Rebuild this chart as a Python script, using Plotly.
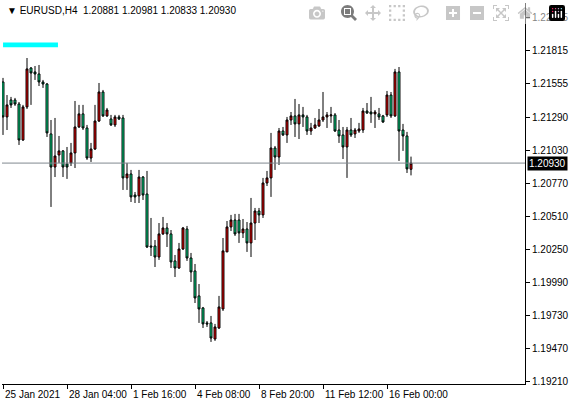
from plotly import graph_objs as go

open_ = [1.21570, 1.21294, 1.21428, 1.21428, 1.21396, 1.21112, 1.21373, 1.21680, 1.21649, 1.21633,
         1.21570, 1.21554, 1.21160, 1.20899, 1.20994, 1.21026, 1.20923, 1.20931, 1.21010, 1.21215,
         1.21318, 1.21207, 1.20970, 1.21041, 1.21262, 1.21491, 1.21302, 1.21278, 1.21231, 1.21294,
         1.21286, 1.20813, 1.20844, 1.20678, 1.20671, 1.20820, 1.20686, 1.20276, 1.20276, 1.20189,
         1.20371, 1.20418, 1.20371, 1.20158, 1.20102, 1.20252, 1.20410, 1.20181, 1.20079, 1.19882,
         1.19787, 1.19669, 1.19669, 1.19542, 1.19629, 1.19779, 1.20229, 1.20426, 1.20481, 1.20481,
         1.20379, 1.20410, 1.20300, 1.20457, 1.20552, 1.20521, 1.20773, 1.20813, 1.21049, 1.20978,
         1.21183, 1.21152, 1.21270, 1.21302, 1.21239, 1.21310, 1.21294, 1.21183, 1.21207, 1.21223,
         1.21270, 1.21294, 1.21302, 1.21310, 1.21191, 1.21152, 1.21057, 1.21191, 1.21160, 1.21183,
         1.21191, 1.21341, 1.21333, 1.21318, 1.21318, 1.21302, 1.21310, 1.21467, 1.21302, 1.21649,
         1.21191, 1.21144, 1.20881]
high = [1.21602, 1.21467, 1.21452, 1.21444, 1.21412, 1.21389, 1.21759, 1.21688, 1.21696, 1.21704,
        1.21586, 1.21562, 1.21270, 1.21286, 1.21144, 1.21033, 1.21057, 1.21089, 1.21420, 1.21389,
        1.21389, 1.21231, 1.21089, 1.21389, 1.21562, 1.21507, 1.21365, 1.21310, 1.21310, 1.21310,
        1.21310, 1.20931, 1.20876, 1.20702, 1.20876, 1.20828, 1.20868, 1.20497, 1.20323, 1.20457,
        1.20505, 1.20457, 1.20402, 1.20205, 1.20300, 1.20426, 1.20434, 1.20221, 1.20134, 1.19976,
        1.19795, 1.19684, 1.19724, 1.19661, 1.19882, 1.20339, 1.20473, 1.20521, 1.20529, 1.20529,
        1.20489, 1.20465, 1.20655, 1.20576, 1.20576, 1.20813, 1.20868, 1.21168, 1.21065, 1.21207,
        1.21215, 1.21294, 1.21333, 1.21436, 1.21396, 1.21373, 1.21310, 1.21247, 1.21286, 1.21357,
        1.21491, 1.21333, 1.21373, 1.21325, 1.21270, 1.21215, 1.21215, 1.21286, 1.21207, 1.21247,
        1.21365, 1.21404, 1.21452, 1.21349, 1.21365, 1.21310, 1.21499, 1.21491, 1.21673, 1.21688,
        1.21239, 1.21176, 1.20981]
low = [1.21152, 1.21191, 1.21365, 1.21381, 1.21073, 1.21105, 1.21357, 1.21389, 1.21586, 1.21538,
       1.21523, 1.21136, 1.20584, 1.20820, 1.20931, 1.20820, 1.20805, 1.20907, 1.20891, 1.21207,
       1.21191, 1.20955, 1.20939, 1.21033, 1.21254, 1.21294, 1.21294, 1.21223, 1.21215, 1.21270,
       1.20718, 1.20718, 1.20623, 1.20615, 1.20615, 1.20639, 1.20260, 1.20197, 1.20110, 1.20166,
       1.20363, 1.20268, 1.20102, 1.20031, 1.20095, 1.20244, 1.20158, 1.19992, 1.19826, 1.19669,
       1.19629, 1.19637, 1.19519, 1.19527, 1.19621, 1.19763, 1.20229, 1.20394, 1.20355, 1.20300,
       1.20339, 1.20229, 1.20189, 1.20323, 1.20457, 1.20497, 1.20749, 1.20663, 1.20876, 1.20915,
       1.21144, 1.21089, 1.21231, 1.21136, 1.21120, 1.21215, 1.21152, 1.21152, 1.21199, 1.21215,
       1.21254, 1.21207, 1.21247, 1.21176, 1.21089, 1.20962, 1.20813, 1.21136, 1.21128, 1.21168,
       1.21168, 1.21318, 1.21247, 1.21207, 1.21270, 1.21247, 1.21294, 1.21286, 1.21294, 1.20947,
       1.21026, 1.20852, 1.20833]
close = [1.21294, 1.21389, 1.21389, 1.21396, 1.21112, 1.21373, 1.21673, 1.21641, 1.21633, 1.21570,
         1.21554, 1.21168, 1.20899, 1.20986, 1.21026, 1.20899, 1.20899, 1.21010, 1.21215, 1.21318,
         1.21207, 1.20970, 1.21041, 1.21262, 1.21491, 1.21302, 1.21349, 1.21231, 1.21294, 1.21278,
         1.20813, 1.20844, 1.20663, 1.20663, 1.20820, 1.20678, 1.20268, 1.20268, 1.20189, 1.20371,
         1.20418, 1.20371, 1.20150, 1.20102, 1.20252, 1.20418, 1.20181, 1.20071, 1.19866, 1.19779,
         1.19661, 1.19661, 1.19550, 1.19637, 1.19795, 1.20237, 1.20426, 1.20481, 1.20371, 1.20379,
         1.20410, 1.20300, 1.20457, 1.20552, 1.20521, 1.20773, 1.20813, 1.21049, 1.20978, 1.21183,
         1.21152, 1.21270, 1.21302, 1.21239, 1.21310, 1.21294, 1.21183, 1.21207, 1.21231, 1.21270,
         1.21294, 1.21310, 1.21310, 1.21183, 1.21144, 1.21057, 1.21191, 1.21152, 1.21191, 1.21199,
         1.21341, 1.21325, 1.21318, 1.21333, 1.21294, 1.21254, 1.21467, 1.21302, 1.21649, 1.21183,
         1.21144, 1.20884, 1.20930]

date_ticks = [0, 16, 32, 48, 64, 80, 96]
date_labels = ["25 Jan 2021", "28 Jan 04:00", "1 Feb 16:00", "4 Feb 08:00",
               "8 Feb 20:00", "11 Feb 12:00", "16 Feb 00:00"]
price_ticks = [1.22075, 1.21815, 1.21555, 1.21290, 1.21030, 1.20770,
               1.20510, 1.20250, 1.19990, 1.19730, 1.19470, 1.19210]
last_price = 1.20930
title = "EURUSD,H4  1.20881 1.20981 1.20833 1.20930"

FONT = "Liberation Sans"
x = list(range(len(close)))

fig = go.Figure()
fig.add_trace(go.Candlestick(
    x=x, open=open_, high=high, low=low, close=close,
    increasing=dict(fillcolor="#ff0000", line=dict(color="black", width=1)),
    decreasing=dict(fillcolor="#00f090", line=dict(color="black", width=1)),
    whiskerwidth=0, showlegend=False, hoverinfo="skip"))

# current price line
fig.add_shape(type="line", xref="paper", x0=0, x1=1, y0=last_price, y1=last_price,
              line=dict(color="#808890", width=1))
fig.add_annotation(xref="paper", x=1.0, y=last_price, xanchor="left", text=f"{last_price:.5f}",
                   showarrow=False, bgcolor="black", font=dict(color="white", size=10, family=FONT),
                   borderpad=1, xshift=2)
# cyan trade-panel bar
fig.add_shape(type="rect", xref="paper", yref="paper", x0=0.002, x1=0.107, y0=0.884, y1=0.896,
              fillcolor="#00ffff", line=dict(width=0))
fig.add_annotation(xref="paper", yref="paper", x=0.005, y=0.999, xanchor="left", yanchor="top",
                   text="\u25bc " + title, showarrow=False, font=dict(size=10, family=FONT, color="black"))
for t, lab in zip(date_ticks, date_labels):
    fig.add_annotation(x=t, yref="paper", y=0, xanchor="left", yanchor="top", yshift=-3,
                       text=lab, showarrow=False, font=dict(size=10, family=FONT, color="black"))

fig.update_layout(
    width=571, height=405, margin=dict(l=2, r=46, t=3, b=21),
    paper_bgcolor="white", plot_bgcolor="white",
    xaxis=dict(range=[-0.25, 130.5], rangeslider=dict(visible=False), tickvals=date_ticks,
               ticktext=[""] * len(date_ticks), ticks="outside", ticklen=4, tickcolor="black",
               showgrid=False, zeroline=False, showline=True, linecolor="black", mirror=False),
    yaxis=dict(range=[1.19187, 1.22193], side="right", tickvals=price_ticks,
               ticktext=[f"{p:.5f}" for p in price_ticks], ticks="outside", ticklen=4,
               tickcolor="black", showgrid=False, zeroline=False, showline=True,
               linecolor="black", tickfont=dict(size=10, family=FONT, color="black")),
    font=dict(family=FONT),
)
fig.write_html("out.html")

# drop the default page margin so the figure fills the window
with open("out.html", encoding="utf-8") as f:
    page = f.read()
page = page.replace("<body>", '<body style="margin:0;overflow:hidden">', 1)
with open("out.html", "w", encoding="utf-8") as f:
    f.write(page)
